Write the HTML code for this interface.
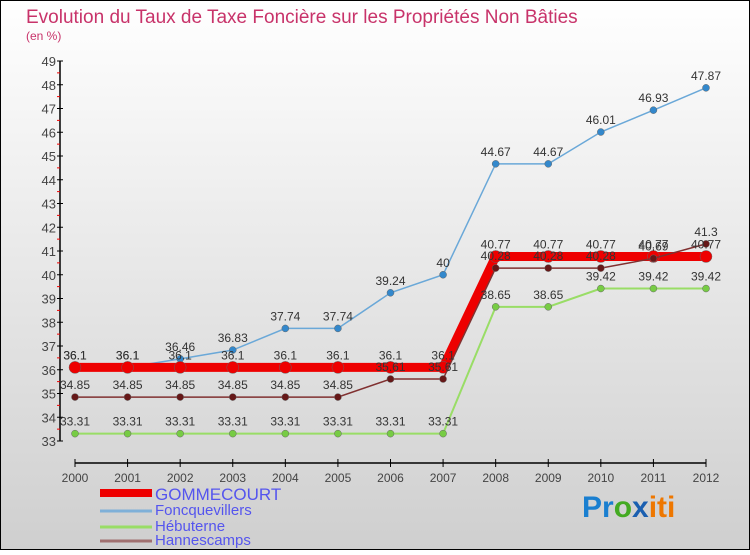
<!DOCTYPE html>
<html><head><meta charset="utf-8"><style>
body{margin:0}
svg text{font-family:"Liberation Sans",sans-serif}
</style></head><body>
<svg id="c" width="750" height="550" xmlns="http://www.w3.org/2000/svg">
<defs><linearGradient id="bg" x1="0" y1="0" x2="0" y2="1"><stop offset="0" stop-color="#ffffff"/><stop offset="1" stop-color="#cfcfcf"/></linearGradient></defs>
<rect x="0.5" y="0.5" width="749" height="549" fill="url(#bg)" stroke="#000"/>
<text x="26" y="23" font-size="19" fill="#c8336a">Evolution du Taux de Taxe Foncière sur les Propriétés Non Bâties</text>
<text x="26" y="40" font-size="12" fill="#c8336a">(en %)</text>
<g id="axes"></g><g id="series"></g><g id="labels"></g>
<g font-size="15" fill="#5555ee">
<rect x="100" y="489" width="52" height="8" fill="#ee0000"/>
<text x="155" y="500" font-size="17">GOMMECOURT</text>
<line x1="100" y1="511" x2="152" y2="511" stroke="#7fb0d8" stroke-width="3"/>
<text x="155" y="515">Foncquevillers</text>
<line x1="100" y1="527" x2="152" y2="527" stroke="#99dd66" stroke-width="3"/>
<text x="155" y="531">Hébuterne</text>
<line x1="100" y1="541" x2="152" y2="541" stroke="#a07070" stroke-width="3"/>
<text x="155" y="545">Hannescamps</text>
</g>
<g font-size="30" font-weight="bold">
<text x="582" y="517"><tspan fill="#1a7fd0">Pr</tspan><tspan fill="#44aa22">o</tspan><tspan fill="#1a5fb0">x</tspan><tspan fill="#ee7700">iti</tspan></text>
</g>
</svg>
<script>
const years=[2000,2001,2002,2003,2004,2005,2006,2007,2008,2009,2010,2011,2012];
const gommecourt=[36.1,36.1,36.1,36.1,36.1,36.1,36.1,36.1,40.77,40.77,40.77,40.77,40.77];
const foncquevillers=[36.1,36.1,36.46,36.83,37.74,37.74,39.24,40,44.67,44.67,46.01,46.93,47.87];
const hebuterne=[33.31,33.31,33.31,33.31,33.31,33.31,33.31,33.31,38.65,38.65,39.42,39.42,39.42];
const hannescamps=[34.85,34.85,34.85,34.85,34.85,34.85,35.61,35.61,40.28,40.28,40.28,40.69,41.3];
const yTicks=[33,34,35,36,37,38,39,40,41,42,43,44,45,46,47,48,49];
const NS="http://www.w3.org/2000/svg";
const xs=i=>75+i*(706-75)/12;
const ys=v=>441-(v-33)*(380/16);
function mk(p,t,a){const e=document.createElementNS(NS,t);for(const k in a)e.setAttribute(k,a[k]);p.appendChild(e);return e;}
const ax=document.getElementById('axes'),se=document.getElementById('series'),lb=document.getElementById('labels');
let yl=mk(ax,'line',{x1:60,y1:61,x2:60,y2:441,stroke:'#000','stroke-width':1.5});


let xl=mk(ax,'line',{x1:75,y1:463,x2:706,y2:463,stroke:'#000','stroke-width':1.5});


yTicks.forEach(v=>{
 mk(ax,'line',{x1:57,x2:63,y1:ys(v),y2:ys(v),stroke:'#000'});
 if(v<49)mk(ax,'line',{x1:57,x2:60,y1:ys(v+0.5),y2:ys(v+0.5),stroke:'#e00'});
 const t=mk(ax,'text',{x:56,y:ys(v)+5,'text-anchor':'end','font-size':13,fill:'#444'});
 
 
 t.textContent=v;
});
years.forEach((y,i)=>{
 mk(ax,'line',{x1:xs(i),x2:xs(i),y1:459,y2:467,stroke:'#000'});
 const t=mk(ax,'text',{x:xs(i),y:482,'text-anchor':'middle','font-size':12,fill:'#444'});
 
 
 t.textContent=y;
});
function draw(name,vals,color,dot,w,r){
 const pts=vals.map((v,i)=>xs(i)+','+ys(v)).join(' ');
 const pl=mk(se,'polyline',{points:pts,fill:'none',stroke:color,'stroke-width':w});
 
 
 vals.forEach((v,i)=>{
  const c=mk(se,'circle',{cx:xs(i),cy:ys(v),r:r,fill:dot,stroke:'#666','stroke-width':0.5});
  
  
  const t=mk(lb,'text',{x:xs(i),y:ys(v)-8,'text-anchor':'middle','font-size':12,fill:'#333'});
  
  
  t.textContent=v;
 });
}
draw('hebuterne',hebuterne,'#99dd66','#77cc44',2,3.5);
draw('foncquevillers',foncquevillers,'#6aa8d8','#3388cc',1.5,3.5);
draw('gommecourt',gommecourt,'#ee0000','#ee0000',9,6);
draw('hannescamps',hannescamps,'#803030','#661818',1.5,3.5);
</script>
</body></html>
